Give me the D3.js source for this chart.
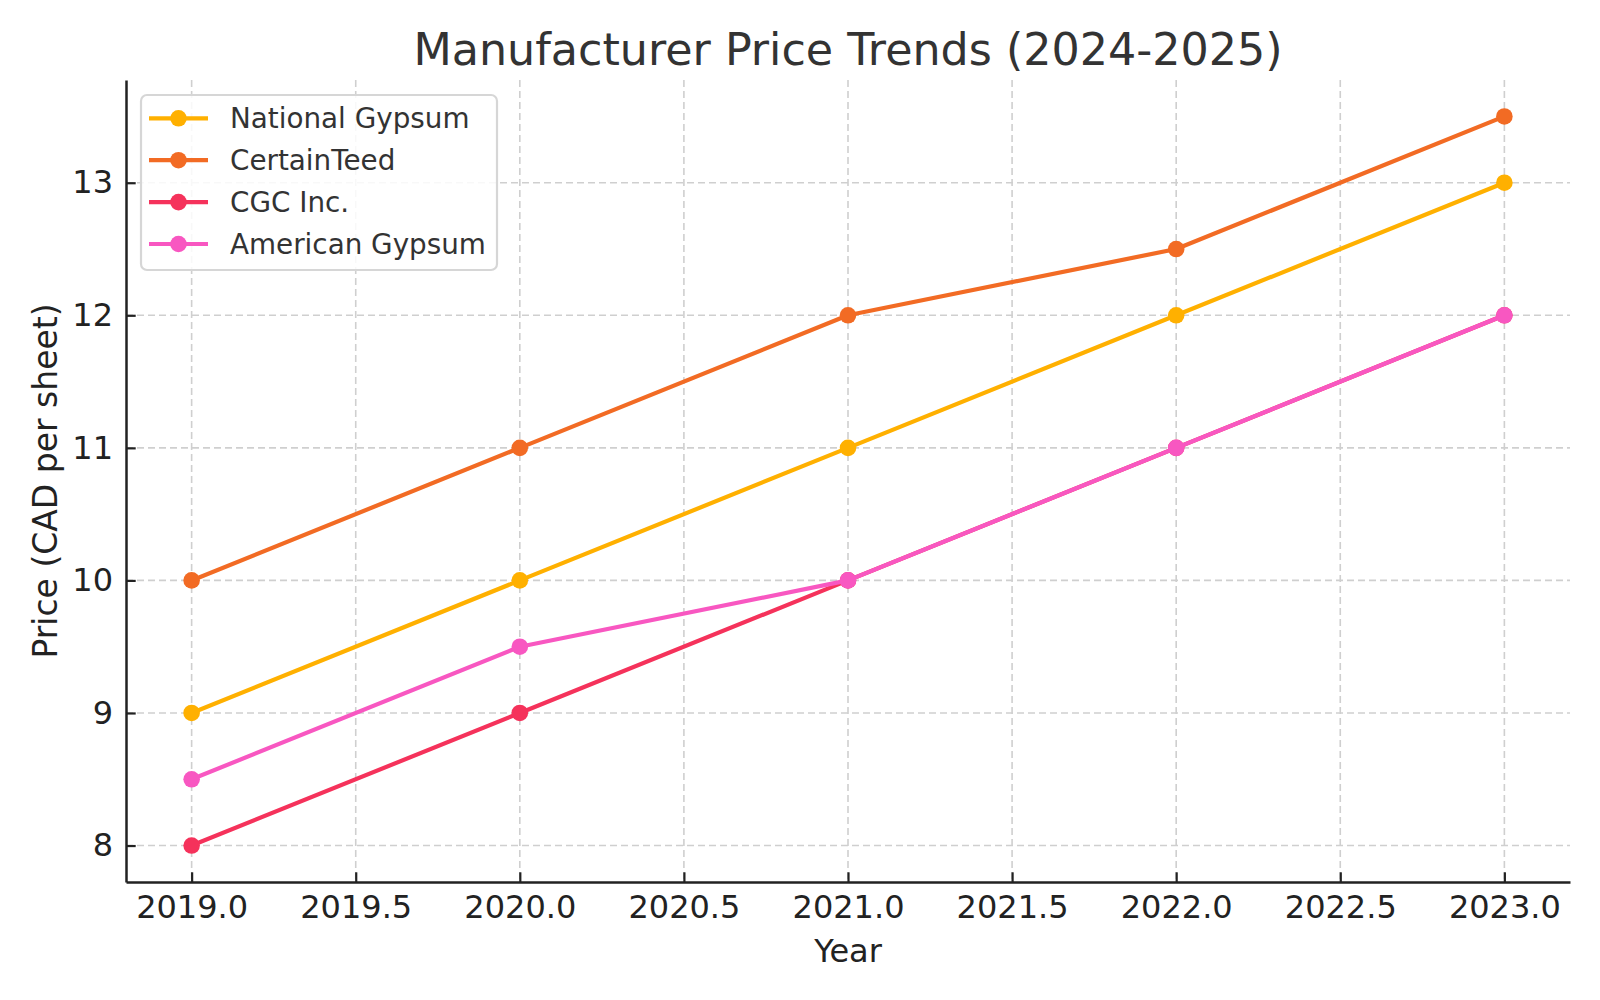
<!DOCTYPE html>
<html>
<head>
<meta charset="utf-8">
<script src="https://cdn.jsdelivr.net/npm/d3@7"></script>
<style>
  html, body { margin: 0; padding: 0; background: #fff; }
  svg { display: block; font-family: "DejaVu Sans", sans-serif; }
</style>
</head>
<body>
<svg id="chart" width="1600" height="1000"></svg>
<script>
const years = [2019, 2020, 2021, 2022, 2023];
const seriesNames = ["National Gypsum", "CertainTeed", "CGC Inc.", "American Gypsum"];
const nationalGypsum = [9, 10, 11, 12, 13];
const certainTeed = [10, 11, 12, 12.5, 13.5];
const cgcInc = [8, 9, 10, 11, 12];
const americanGypsum = [8.5, 9.5, 10, 11, 12];
const seriesColors = ["#FFB000", "#F26B24", "#F5325B", "#F857C1"];
const xTicks = [2019, 2019.5, 2020, 2020.5, 2021, 2021.5, 2022, 2022.5, 2023];
const yTicks = [8, 9, 10, 11, 12, 13];
const titleText = "Manufacturer Price Trends (2024-2025)";
const xLabel = "Year";
const yLabel = "Price (CAD per sheet)";

const seriesValues = [nationalGypsum, certainTeed, cgcInc, americanGypsum];
const series = seriesNames.map((name, i) => ({
  name, color: seriesColors[i],
  points: years.map((y, j) => ({ x: y, y: seriesValues[i][j] }))
}));

const svg = d3.select("#chart");
const mLeft = 126, mRight = 1570, mTop = 80, mBottom = 882;

const x = d3.scaleLinear().domain([2018.8, 2023.2]).range([mLeft, mRight]);
const y = d3.scaleLinear().domain([7.725, 13.775]).range([mBottom, mTop]);

// grid
const grid = svg.append("g");
grid.selectAll("line.vx").data(xTicks).join("line")
  .attr("x1", d => x(d)).attr("x2", d => x(d))
  .attr("y1", mTop).attr("y2", mBottom)
  .attr("stroke", "#cfcfcf").attr("stroke-width", 1.6).attr("stroke-dasharray", "7,4");
grid.selectAll("line.hy").data(yTicks).join("line")
  .attr("y1", d => y(d)).attr("y2", d => y(d))
  .attr("x1", mLeft).attr("x2", mRight)
  .attr("stroke", "#cfcfcf").attr("stroke-width", 1.6).attr("stroke-dasharray", "7,4");

// axes
const xAxis = d3.axisBottom(x).tickValues(xTicks).tickFormat(d3.format(".1f"))
  .tickSizeInner(-9.7).tickSizeOuter(0).tickPadding(13);
const gx = svg.append("g").attr("transform", `translate(0,${mBottom})`).call(xAxis);
gx.select(".domain").attr("stroke", "#222").attr("stroke-width", 2.5);
gx.selectAll(".tick line").attr("stroke", "#222").attr("stroke-width", 2.2);
gx.selectAll(".tick text").attr("fill", "#222").attr("font-size", 32)
  .attr("font-family", "DejaVu Sans");

const yAxis = d3.axisLeft(y).tickValues(yTicks).tickFormat(d3.format("d"))
  .tickSizeInner(-9.7).tickSizeOuter(0).tickPadding(13);
const gy = svg.append("g").attr("transform", `translate(${mLeft},0)`).call(yAxis);
gy.select(".domain").attr("stroke", "#222").attr("stroke-width", 2.5);
gy.selectAll(".tick line").attr("stroke", "#222").attr("stroke-width", 2.2);
gy.selectAll(".tick text").attr("fill", "#222").attr("font-size", 32)
  .attr("font-family", "DejaVu Sans");

// lines & markers
const line = d3.line().x(d => x(d.x)).y(d => y(d.y));
series.forEach(s => {
  const g = svg.append("g");
  g.append("path").datum(s.points).attr("d", line)
    .attr("fill", "none").attr("stroke", s.color).attr("stroke-width", 4.2)
    .attr("stroke-linejoin", "round").attr("stroke-linecap", "square");
  g.selectAll("circle").data(s.points).join("circle")
    .attr("cx", d => x(d.x)).attr("cy", d => y(d.y)).attr("r", 8.3)
    .attr("fill", s.color);
});

// title & labels
svg.append("text").attr("x", (mLeft + mRight) / 2).attr("y", 65)
  .attr("text-anchor", "middle").attr("font-size", 44.4).attr("fill", "#333")
  .text(titleText);
svg.append("text").attr("x", (mLeft + mRight) / 2).attr("y", 962)
  .attr("text-anchor", "middle").attr("font-size", 32).attr("fill", "#222")
  .text(xLabel);
svg.append("text").attr("transform", `translate(56.5,${(mTop + mBottom) / 2}) rotate(-90)`)
  .attr("text-anchor", "middle").attr("font-size", 33).attr("fill", "#222")
  .text(yLabel);

// legend
const lg = svg.append("g");
lg.append("rect").attr("x", 141).attr("y", 95).attr("width", 356).attr("height", 175)
  .attr("rx", 6).attr("fill", "rgba(255,255,255,0.85)")
  .attr("stroke", "#d6d6d6").attr("stroke-width", 2.2);
series.forEach((s, i) => {
  const cy = 118.3 + i * 41.9;
  lg.append("line").attr("x1", 149).attr("x2", 208).attr("y1", cy).attr("y2", cy)
    .attr("stroke", s.color).attr("stroke-width", 4.2);
  lg.append("circle").attr("cx", 178.5).attr("cy", cy).attr("r", 8.3).attr("fill", s.color);
  lg.append("text").attr("x", 230).attr("y", cy).attr("dy", "0.36em")
    .attr("font-size", 27.8).attr("fill", "#333").text(s.name);
});
</script>
</body>
</html>
